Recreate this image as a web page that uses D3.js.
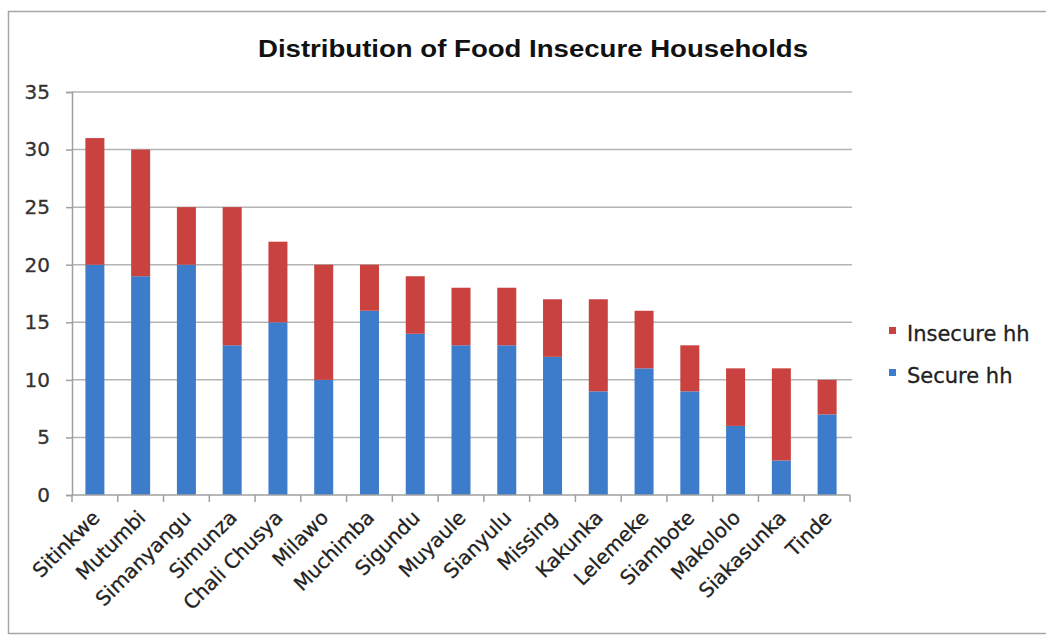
<!DOCTYPE html>
<html>
<head>
<meta charset="utf-8">
<script src="https://cdn.jsdelivr.net/npm/d3@7"></script>
<style>
  html, body { margin: 0; padding: 0; background: #fff; }
  svg { display: block; }
</style>
</head>
<body>
<svg id="chart" width="1046" height="638"></svg>
<script>
// Households per village, split into food-secure and food-insecure counts
const villages = ["Sitinkwe", "Mutumbi", "Simanyangu", "Simunza", "Chali Chusya", "Milawo",
  "Muchimba", "Sigundu", "Muyaule", "Sianyulu", "Missing", "Kakunka", "Lelemeke",
  "Siambote", "Makololo", "Siakasunka", "Tinde"];
const secureHH   = [20, 19, 20, 13, 15, 10, 16, 14, 13, 13, 12, 9, 11, 9, 6, 3, 7];
const insecureHH = [11, 11, 5, 12, 7, 10, 4, 5, 5, 5, 5, 8, 5, 4, 5, 8, 3];
const seriesNames = ["Secure hh", "Insecure hh"];
const seriesColors = ["#3d7cca", "#c9423f"];
const yTicks = [0, 5, 10, 15, 20, 25, 30, 35];
const chartTitle = "Distribution of Food Insecure Households";

const svg = d3.select("#chart");
const plot = { left: 72, right: 850, top: 92, bottom: 495 };

// Outer chart frame
svg.append("rect")
  .attr("x", 8.5).attr("y", 11.5)
  .attr("width", 1046).attr("height", 622)
  .attr("fill", "#fff").attr("stroke", "#a6a6a6").attr("stroke-width", 1.5);

// Title
svg.append("text")
  .attr("x", 533).attr("y", 57)
  .attr("text-anchor", "middle")
  .attr("font-family", "'Liberation Sans Narrow', 'Liberation Sans', sans-serif")
  .attr("font-weight", "bold")
  .attr("font-size", 23)
  .attr("textLength", 550)
  .attr("lengthAdjust", "spacingAndGlyphs")
  .attr("fill", "#111")
  .text(chartTitle);

const xBand = d3.scaleBand().domain(villages).range([plot.left, plot.right]);
const y = d3.scaleLinear().domain([0, 35]).range([plot.bottom, plot.top]);
const barWidth = 19;
const center = v => xBand(v) + xBand.bandwidth() / 2;

// Horizontal gridlines
svg.append("g")
  .selectAll("line")
  .data(yTicks.filter(t => t > 0))
  .join("line")
  .attr("x1", plot.left).attr("x2", plot.right + 2)
  .attr("y1", d => y(d)).attr("y2", d => y(d))
  .attr("stroke", "#b4b4b4").attr("stroke-width", 1.5);

// Y axis
const yAxis = svg.append("g")
  .attr("transform", `translate(${plot.left},0)`)
  .call(d3.axisLeft(y).tickValues(yTicks).tickSize(6).tickPadding(16).tickFormat(d3.format("d")));
yAxis.select(".domain").attr("stroke", "#a0a0a0").attr("stroke-width", 1.5);
yAxis.selectAll(".tick line").attr("stroke", "#a0a0a0").attr("stroke-width", 1.5);
yAxis.selectAll(".tick text")
  .attr("font-family", "'DejaVu Sans', sans-serif")
  .attr("font-size", 20)
  .attr("fill", "#333")
  .attr("stroke", "#333").attr("stroke-width", 0.3);

// Stacked bars
const rows = villages.map((v, i) => ({ village: v, "Secure hh": secureHH[i], "Insecure hh": insecureHH[i] }));
const stacked = d3.stack().keys(seriesNames)(rows);

svg.append("g")
  .selectAll("g")
  .data(stacked)
  .join("g")
  .attr("fill", (d, i) => seriesColors[i])
  .selectAll("rect")
  .data(d => d)
  .join("rect")
  .attr("x", d => center(d.data.village) - barWidth / 2)
  .attr("width", barWidth)
  .attr("y", d => y(d[1]))
  .attr("height", d => y(d[0]) - y(d[1]));

// X axis with category separator ticks
const xAxisG = svg.append("g").attr("transform", `translate(0,${plot.bottom})`);
xAxisG.append("line")
  .attr("x1", plot.left).attr("x2", plot.right)
  .attr("stroke", "#a0a0a0").attr("stroke-width", 1.5);
const boundaries = villages.map(v => xBand(v)).concat([plot.right]);
xAxisG.selectAll("line.sep")
  .data(boundaries)
  .join("line")
  .attr("class", "sep")
  .attr("x1", d => d).attr("x2", d => d)
  .attr("y1", 0).attr("y2", 7)
  .attr("stroke", "#a0a0a0").attr("stroke-width", 1.5);

xAxisG.selectAll("text")
  .data(villages)
  .join("text")
  .attr("transform", d => `translate(${center(d) + 1},${19}) rotate(-45)`)
  .attr("text-anchor", "end")
  .attr("dy", "0.35em")
  .attr("font-family", "'DejaVu Sans', sans-serif")
  .attr("font-size", 20)
  .attr("fill", "#222")
  .attr("stroke", "#222").attr("stroke-width", 0.3)
  .text(d => d);

// Legend (insecure listed first, matching the stack order from top)
const legendItems = [
  { name: "Insecure hh", color: seriesColors[1], y: 333 },
  { name: "Secure hh", color: seriesColors[0], y: 375 }
];
const legend = svg.append("g");
legend.selectAll("rect")
  .data(legendItems)
  .join("rect")
  .attr("x", 889).attr("y", d => d.y - 6)
  .attr("width", 7).attr("height", 7)
  .attr("fill", d => d.color);
legend.selectAll("text")
  .data(legendItems)
  .join("text")
  .attr("x", 907).attr("y", d => d.y + 8)
  .attr("font-family", "'DejaVu Sans', sans-serif")
  .attr("font-size", 21)
  .attr("fill", "#222")
  .attr("stroke", "#222").attr("stroke-width", 0.3)
  .text(d => d.name);
</script>
</body>
</html>
